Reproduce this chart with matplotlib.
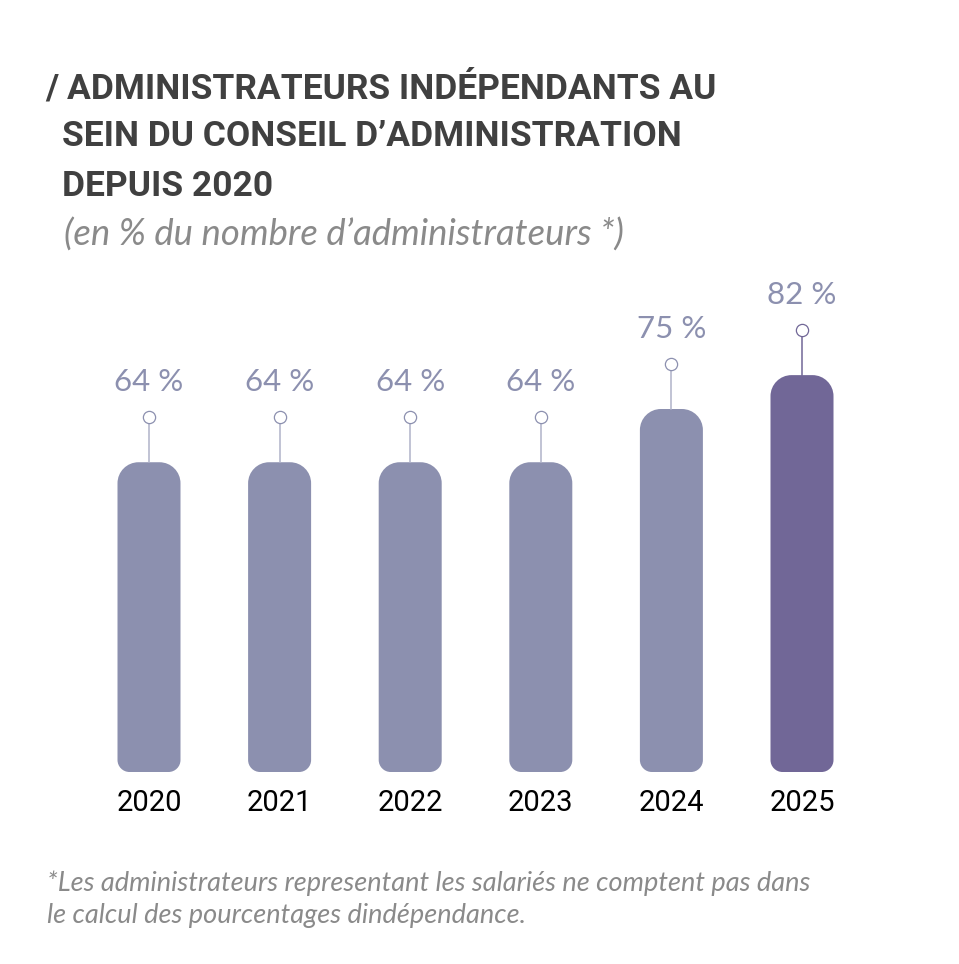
import matplotlib
matplotlib.use("Agg")
import matplotlib.pyplot as plt
from matplotlib.path import Path
import matplotlib.patches as patches

# data
years = ["2020", "2021", "2022", "2023", "2024", "2025"]
values = [64, 64, 64, 64, 75, 82]
labels = ["64 %", "64 %", "64 %", "64 %", "75 %", "82 %"]

W, H = 959, 964
BAR_GRAY = "#8c90af"
BAR_LAST = "#716797"
STEM_GRAY = "#b0b3c9"
TITLE_C = "#404040"
NOTE_C = "#8a8a8a"

fig = plt.figure(figsize=(W / 100, H / 100), dpi=100)
fig.patch.set_facecolor("white")

# axes placed in pixels: bar centres 149 ... 802, baseline at y=772
step = 130.6
px_per_unit = 4.84
ymax = 100
ax_left = 149 - step / 2
ax_bottom = H - 772
ax = fig.add_axes([ax_left / W, ax_bottom / H, 6 * step / W, ymax * px_per_unit / H])
ax.set_xlim(-0.5, 5.5)
ax.set_ylim(0, ymax)
ax.axis("off")


def rounded_bar(xc, h, width_px=63, rtop=21, rbot=12):
    # bar with circular corners (sizes in pixels) expressed in data units
    hw = width_px / 2 / step
    rtx, rty = rtop / step, rtop / px_per_unit
    rbx, rby = rbot / step, rbot / px_per_unit
    k = 0.5523
    x0, x1 = xc - hw, xc + hw
    verts = [
        (x0 + rbx, 0),
        (x1 - rbx, 0),
        (x1 - rbx + k * rbx, 0), (x1, rby - k * rby), (x1, rby),
        (x1, h - rty),
        (x1, h - rty + k * rty), (x1 - rtx + k * rtx, h), (x1 - rtx, h),
        (x0 + rtx, h),
        (x0 + rtx - k * rtx, h), (x0, h - rty + k * rty), (x0, h - rty),
        (x0, rby),
        (x0, rby - k * rby), (x0 + rbx - k * rbx, 0), (x0 + rbx, 0),
        (x0 + rbx, 0),
    ]
    codes = [Path.MOVETO, Path.LINETO,
             Path.CURVE4, Path.CURVE4, Path.CURVE4,
             Path.LINETO,
             Path.CURVE4, Path.CURVE4, Path.CURVE4,
             Path.LINETO,
             Path.CURVE4, Path.CURVE4, Path.CURVE4,
             Path.LINETO,
             Path.CURVE4, Path.CURVE4, Path.CURVE4,
             Path.CLOSEPOLY]
    return Path(verts, codes)


for i, (v, lab) in enumerate(zip(values, labels)):
    last = i == len(values) - 1
    col = BAR_LAST if last else BAR_GRAY
    stem = BAR_LAST if last else STEM_GRAY
    ax.add_patch(patches.PathPatch(rounded_bar(i, v), facecolor=col, edgecolor="none"))
    top = v + 45 / px_per_unit
    ax.plot([i, i], [v, top - 6 / px_per_unit], color=stem, lw=1.1, clip_on=False)
    ax.plot([i], [top], marker="o", ms=8.8, mfc="white", mec=col if last else BAR_GRAY,
            mew=0.9, clip_on=False)
    ax.text(i, v + 80 / px_per_unit, lab, ha="center", va="center", fontsize=22.5,
            family="Lato", color=BAR_GRAY, clip_on=False)
    ax.text(i, -31 / px_per_unit, years[i], ha="center", va="center", fontsize=21,
            family="Roboto", color="black", clip_on=False)


def ftext(x, y, s, **kw):
    fig.text(x / W, 1 - y / H, s, va="center", ha="left", **kw)


title_kw = dict(fontsize=25.5, family="Roboto", fontweight="bold", color=TITLE_C)
ftext(45, 88, "/ ADMINISTRATEURS INDÉPENDANTS AU", **title_kw)
ftext(62, 137, "SEIN DU CONSEIL D\u2019ADMINISTRATION", **title_kw)
ftext(62, 186, "DEPUIS 2020", **title_kw)
ftext(64, 235, "(en % du nombre d\u2019administrateurs *)", fontsize=26.3, family="Lato",
      style="italic", color=NOTE_C)
note_kw = dict(fontsize=19.5, family="Lato", style="italic", color=NOTE_C)
ftext(47, 883, "*Les administrateurs representant les salariés ne comptent pas dans", **note_kw)
ftext(47, 915, "le calcul des pourcentages dindépendance.", **note_kw)

fig.savefig("out.png", dpi=100, facecolor="white")
